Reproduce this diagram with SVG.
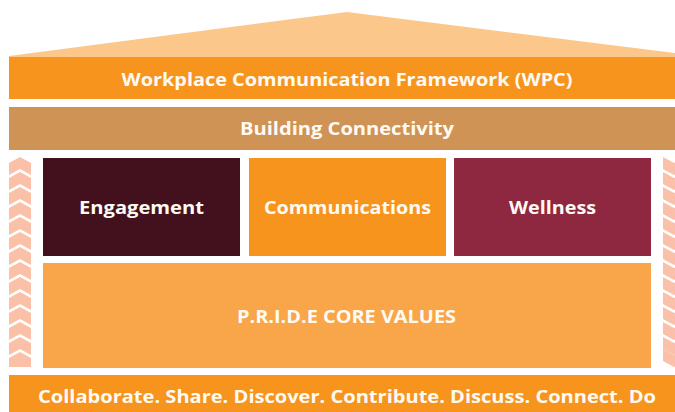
<svg xmlns="http://www.w3.org/2000/svg" xmlns:xlink="http://www.w3.org/1999/xlink" width="675" height="412" viewBox="0 0 675 412">
<style>
.t{font-family:"Open Sans","Liberation Sans",sans-serif;font-weight:bold;fill:#FFFBF4;text-anchor:middle}
.chev{fill:#FBC0A8}
</style>
<defs>
<polygon id="up" class="chev" points="-11,6 0,0 11,6 11,18 0,12 -11,18"/>
<polygon id="down" class="chev" points="-11,0 0,6 11,0 11,12 0,18 -11,12"/>
</defs>
<rect width="675" height="412" fill="#FFFFFF"/>
<g id="roof">
<polygon points="9,56 347,12 675,53 675,57 9,57" fill="#FBC78B"/>
</g>
<g id="wpc">
<rect x="9" y="57" width="666" height="42" fill="#F7941E"/>
<text class="t" x="347" y="86" font-size="18" textLength="451" lengthAdjust="spacingAndGlyphs">Workplace Communication Framework (WPC)</text>
</g>
<g id="building">
<rect x="9" y="107" width="666" height="43" fill="#CF9355"/>
<text class="t" x="347" y="135" font-size="18" textLength="214" lengthAdjust="spacingAndGlyphs">Building Connectivity</text>
</g>
<g id="engagement">
<rect x="43" y="158" width="197" height="98" fill="#42111D"/>
<text class="t" x="141.5" y="214" font-size="18" textLength="125" lengthAdjust="spacingAndGlyphs">Engagement</text>
</g>
<g id="communications">
<rect x="249" y="158" width="197" height="98" fill="#F7941E"/>
<text class="t" x="347.5" y="214" font-size="18" textLength="167" lengthAdjust="spacingAndGlyphs">Communications</text>
</g>
<g id="wellness">
<rect x="454" y="158" width="197" height="98" fill="#8E2840"/>
<text class="t" x="552.5" y="214" font-size="18" textLength="87" lengthAdjust="spacingAndGlyphs">Wellness</text>
</g>
<g id="core-values">
<rect x="43" y="263" width="608" height="105" fill="#F9A64A"/>
<text class="t" x="346.5" y="323" font-size="18" textLength="219" lengthAdjust="spacingAndGlyphs">P.R.I.D.E CORE VALUES</text>
</g>
<g id="actions">
<rect x="9" y="375" width="666" height="37" fill="#F7941E"/>
<text class="t" x="347" y="403" font-size="17" textLength="618" lengthAdjust="spacingAndGlyphs">Collaborate. Share. Discover. Contribute. Discuss. Connect. Do</text>
</g>
<g id="left-arrows">
<use xlink:href="#up" x="20" y="157"/>
<use xlink:href="#up" x="20" y="172"/>
<use xlink:href="#up" x="20" y="187"/>
<use xlink:href="#up" x="20" y="202"/>
<use xlink:href="#up" x="20" y="217"/>
<use xlink:href="#up" x="20" y="232"/>
<use xlink:href="#up" x="20" y="247"/>
<use xlink:href="#up" x="20" y="262"/>
<use xlink:href="#up" x="20" y="277"/>
<use xlink:href="#up" x="20" y="292"/>
<use xlink:href="#up" x="20" y="307"/>
<use xlink:href="#up" x="20" y="322"/>
<use xlink:href="#up" x="20" y="337"/>
<polygon class="chev" points="9,358 20,352 31,358 31,367 9,367"/>
</g>
<g id="right-arrows">
<use xlink:href="#down" x="674" y="157"/>
<use xlink:href="#down" x="674" y="172"/>
<use xlink:href="#down" x="674" y="187"/>
<use xlink:href="#down" x="674" y="202"/>
<use xlink:href="#down" x="674" y="217"/>
<use xlink:href="#down" x="674" y="232"/>
<use xlink:href="#down" x="674" y="247"/>
<use xlink:href="#down" x="674" y="262"/>
<use xlink:href="#down" x="674" y="277"/>
<use xlink:href="#down" x="674" y="292"/>
<use xlink:href="#down" x="674" y="307"/>
<use xlink:href="#down" x="674" y="322"/>
<use xlink:href="#down" x="674" y="337"/>
<use xlink:href="#down" x="674" y="349"/>
</g>
</svg>
